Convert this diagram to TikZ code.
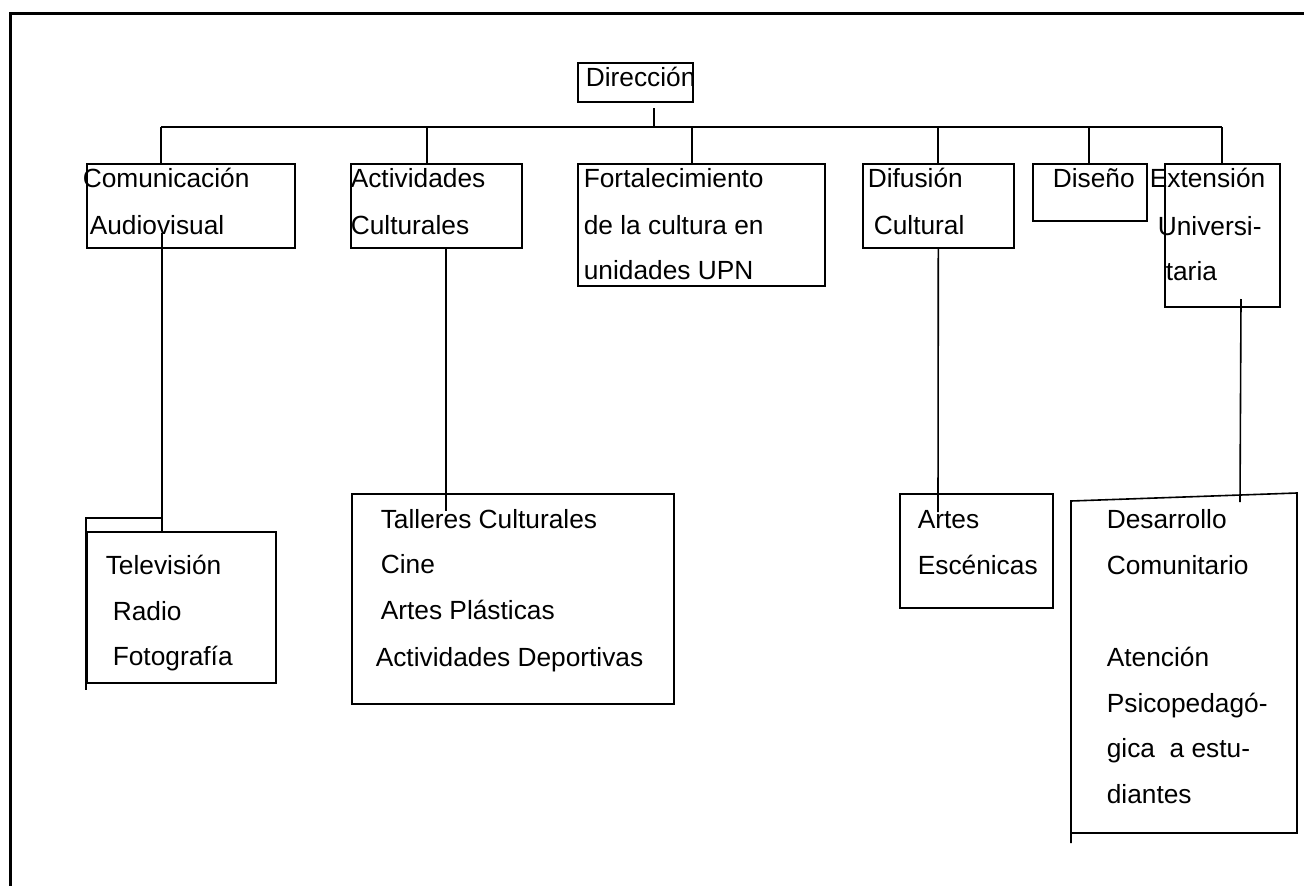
\documentclass[tikz,border=0pt]{standalone}
\usepackage{fontspec}
\setmainfont{Liberation Sans}
\usetikzlibrary{positioning,calc}

\tikzset{
  box/.style={draw, rectangle, inner sep=0pt, anchor=north west},
  txt/.style={anchor=base west, inner sep=0pt, font=\fontsize{26.3}{30}\selectfont}
}

\begin{document}
\begin{tikzpicture}[x=1pt, y=-1pt, line width=1.6pt]
    \useasboundingbox (0,0) rectangle (1304,886);
    % frame
    \draw[line width=3pt] (10,886) -- (10,13) -- (1304,13);

    % boxes
    \node (dir) [box, minimum width=115pt, minimum height=39pt] at (577,62) {};
    \node (com) [box, minimum width=208pt, minimum height=84pt] at (86,163) {};
    \node (act) [box, minimum width=171pt, minimum height=84pt] at (350,163) {};
    \node (fort) [box, minimum width=247pt, minimum height=122pt] at (577,163) {};
    \node (dif) [box, minimum width=151pt, minimum height=84pt] at (862,163) {};
    \node (dis) [box, minimum width=114pt, minimum height=57pt] at (1032,163) {};
    \node (ext) [box, minimum width=115pt, minimum height=143pt] at (1164,163) {};
    \node (tv) [box, minimum width=189pt, minimum height=151pt] at (86,531) {};
    \node (tal) [box, minimum width=322pt, minimum height=210pt] at (351,493) {};
    \node (art) [box, minimum width=153pt, minimum height=114pt] at (899,493) {};
    % Desarrollo box, top edge slanted
    \coordinate (desNW) at (1071,501);
    \coordinate (desNE) at (1297,493);
    \coordinate (desSE) at (1297,833);
    \coordinate (desSW) at (1071,833);
    \draw ($(desSW)+(0,10)$) -- (desNW) -- (desNE) -- (desSE) -- (desSW);

    % texts
    \node (dirT) [txt] at (585,86) {Dirección};
    \node (comT1) [txt] at (82,187) {Comunicación};
    \node (comT2) [txt] at (89,234) {Audiovisual};
    \node (actT1) [txt] at (350,187) {Actividades};
    \node (actT2) [txt] at (350,234) {Culturales};
    \node (fortT1) [txt] at (583,187) {Fortalecimiento};
    \node (fortT2) [txt] at (583,234) {de la cultura en};
    \node (fortT3) [txt] at (583,279) {unidades UPN};
    \node (difT1) [txt] at (867,187) {Difusión};
    \node (difT2) [txt] at (873,234) {Cultural};
    \node (disT) [txt] at (1052,187) {Diseño};
    \node (extT1) [txt] at (1149,187) {Extensión};
    \node (extT2) [txt] at (1157,235) {Universi-};
    \node (extT3) [txt] at (1165,280) {taria};
    \node (tvT1) [txt] at (105,574) {Televisión};
    \node (tvT2) [txt] at (112,620) {Radio};
    \node (tvT3) [txt] at (112,665) {Fotografía};
    \node (talT1) [txt] at (380,528) {Talleres Culturales};
    \node (talT2) [txt] at (380,573) {Cine};
    \node (talT3) [txt] at (380,619) {Artes Plásticas};
    \node (talT4) [txt] at (375,666) {Actividades Deportivas};
    \node (artT1) [txt] at (917,528) {Artes};
    \node (artT2) [txt] at (917,574) {Escénicas};
    \node (desT1) [txt] at (1106,528) {Desarrollo};
    \node (desT2) [txt] at (1106,574) {Comunitario};
    \node (desT3) [txt] at (1106,666) {Atención};
    \node (desT4) [txt] at (1106,712) {Psicopedagó-};
    \node (desT5) [txt] at (1106,757) {gica\ \ a estu-};
    \node (desT6) [txt] at (1106,803) {diantes};

    % bus
    \coordinate (stem) at (654,108);
    \coordinate (busL) at (161,127);
    \coordinate (busR) at (1222,127);
    \draw (stem) -- (stem |- busL);
    \draw (busL) -- (busR);
    \draw (busL) -- (busL |- com.north);
    \foreach \n/\x in {act/427, fort/692, dif/938, dis/1089, ext/1222}
      \draw (\x,127) -- (\x,127 |- \n.north);

    % lower links
    \coordinate (comA) at (162,233);
    \coordinate (tvstub) at (86,518);
    \draw (comA) -- (comA |- tv.north);
    \draw ($(tv.south west)+(0,6)$) -- (tvstub) -- (tvstub -| comA);
    \coordinate (actdrop) at (446,511);
    \draw (actdrop |- act.south) -- (actdrop);
    \coordinate (difdrop) at (938,512);
    \draw (dif.south) -- (difdrop);
    \coordinate (extA) at (1241,299);
    \coordinate (extB) at (1240,502);
    \draw (extA) -- (extB);
\end{tikzpicture}
\end{document}
